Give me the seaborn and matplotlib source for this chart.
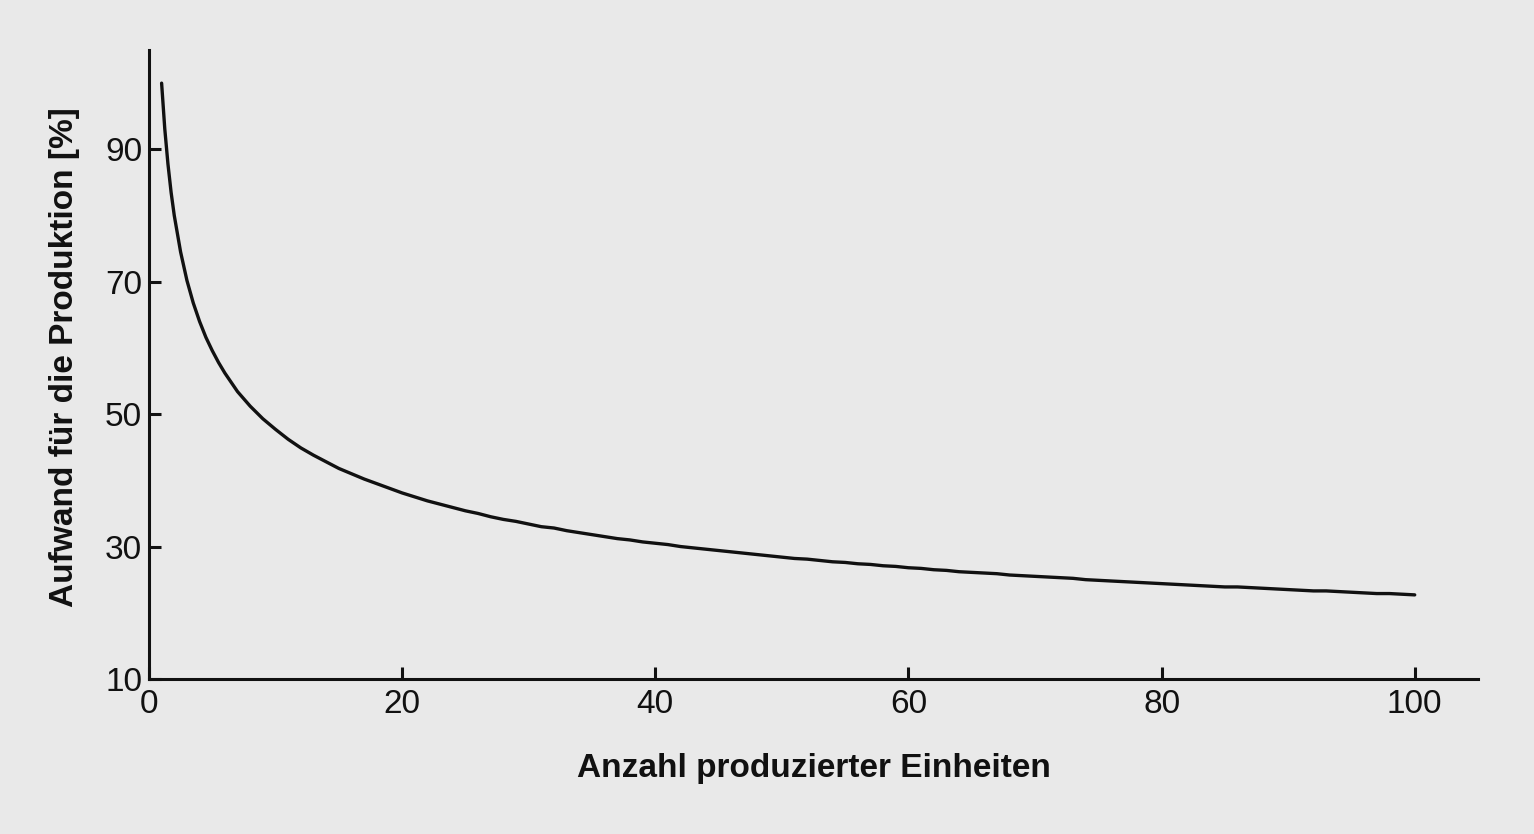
import matplotlib
matplotlib.use("Agg")
import matplotlib.pyplot as plt
import seaborn as sns
import pandas as pd

# Data
units = [1, 1.25, 1.5, 1.75, 2, 2.5, 3, 3.5, 4, 4.5, 5, 5.5,
         6, 7, 8, 9, 10,
         11, 12, 13, 14, 15, 16, 17, 18, 19, 20,
         21, 22, 23, 24, 25, 26, 27, 28, 29, 30,
         31, 32, 33, 34, 35, 36, 37, 38, 39, 40,
         41, 42, 43, 44, 45, 46, 47, 48, 49, 50,
         51, 52, 53, 54, 55, 56, 57, 58, 59, 60,
         61, 62, 63, 64, 65, 66, 67, 68, 69, 70,
         71, 72, 73, 74, 75, 76, 77, 78, 79, 80,
         81, 82, 83, 84, 85, 86, 87, 88, 89, 90,
         91, 92, 93, 94, 95, 96, 97, 98, 99, 100]
effort = [100.0, 93.1, 87.8, 83.5, 80.0, 74.5, 70.2, 66.8, 64.0, 61.6, 59.6, 57.8,
          56.2, 53.4, 51.2, 49.3, 47.7,
          46.2, 44.9, 43.8, 42.8, 41.8, 41.0, 40.2, 39.5, 38.8, 38.1,
          37.5, 36.9, 36.4, 35.9, 35.4, 35.0, 34.5, 34.1, 33.8, 33.4,
          33.0, 32.8, 32.4, 32.1, 31.8, 31.5, 31.2, 31.0, 30.7, 30.5,
          30.3, 30.0, 29.8, 29.6, 29.4, 29.2, 29.0, 28.8, 28.6, 28.4,
          28.2, 28.1, 27.9, 27.7, 27.6, 27.4, 27.3, 27.1, 27.0, 26.8,
          26.7, 26.5, 26.4, 26.2, 26.1, 26.0, 25.9, 25.7, 25.6, 25.5,
          25.4, 25.3, 25.2, 25.0, 24.9, 24.8, 24.7, 24.6, 24.5, 24.4,
          24.3, 24.2, 24.1, 24.0, 23.9, 23.9, 23.8, 23.7, 23.6, 23.5,
          23.4, 23.3, 23.3, 23.2, 23.1, 23.0, 22.9, 22.9, 22.8, 22.7]
x_ticks = [0, 20, 40, 60, 80, 100]
y_ticks = [10, 30, 50, 70, 90]
x_label = "Anzahl produzierter Einheiten"
y_label = "Aufwand für die Produktion [%]"

bg = "#e9e9e9"
ink = "#111111"
sns.set_theme(style="ticks")
plt.rcParams["font.family"] = ["Liberation Sans", "DejaVu Sans"]

fig = plt.figure(figsize=(15.34, 8.34), dpi=100, facecolor=bg)
ax = fig.add_axes([0.0971, 0.1859, 0.8664, 0.7541])
ax.set_facecolor(bg)

df = pd.DataFrame({"x": units, "y": effort})
sns.lineplot(data=df, x="x", y="y", ax=ax, color=ink, linewidth=2.4)

ax.set_xlim(0, 105)
ax.set_ylim(10, 105)
ax.set_xticks(x_ticks)
ax.set_yticks(y_ticks)
ax.tick_params(axis="both", direction="in", length=8.5, width=2.2,
               labelsize=24, colors=ink)
ax.tick_params(axis="y", pad=5)
ax.tick_params(axis="x", pad=7)

for s in ["top", "right"]:
    ax.spines[s].set_visible(False)
for s in ["left", "bottom"]:
    ax.spines[s].set_linewidth(2.2)
    ax.spines[s].set_color(ink)

ax.set_xlabel(x_label, fontsize=24, fontweight="bold", color=ink, labelpad=24)
ax.set_ylabel(y_label, fontsize=24, fontweight="bold", color=ink)
ax.yaxis.set_label_coords(-0.052, 0.512)

fig.savefig("out.png", dpi=100, facecolor=bg)
